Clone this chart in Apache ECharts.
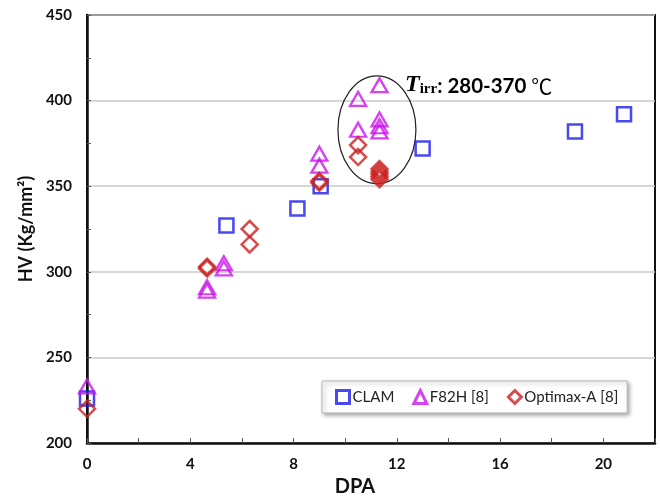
<!DOCTYPE html>
<html>
<head>
<meta charset="utf-8">
<script src="https://cdn.jsdelivr.net/npm/echarts@6/dist/echarts.min.js"></script>
<style>html,body{margin:0;padding:0;background:#fff}#c{width:660px;height:498px}</style>
</head>
<body>
<div id="c"></div>
<script>
// ---- data ----
const clamDpa = [0, 5.4, 8.15, 9.05, 13.0, 18.9, 20.8];
const clamHv  = [226, 327, 337, 350, 372, 382, 392];

const f82hDpa = [0, 4.65, 4.65, 5.3, 5.3, 9.0, 9.0, 10.5, 10.5, 11.33, 11.33, 11.33, 11.33];
const f82hHv  = [233, 289, 291, 302, 305, 362, 369, 401, 383, 409, 389, 385, 382];

const optDpa = [0, 4.65, 4.65, 6.3, 6.3, 9.0, 9.0, 10.5, 10.5, 11.33, 11.33, 11.33, 11.33, 11.33];
const optHv  = [220, 302, 303, 325, 316, 352, 353, 374, 367, 354, 355.5, 357, 358.5, 360];

const seriesNames = ['CLAM', 'F82H [8]', 'Optimax-A [8]'];
const xTicks = [0, 4, 8, 12, 16, 20];
const yTicks = [200, 250, 300, 350, 400, 450];

// ellipse annotation (center and radii in data units)
const ellipseCenter = [11.23, 383];
const ellipseRadius = [1.51, 31.5];

const zip = (a, b) => a.map((v, i) => [v, b[i]]);

const chart = echarts.init(document.getElementById('c'));
const labelFont = { fontFamily: 'Lato', fontWeight: 'bold', fontSize: 15, color: '#111' };

chart.setOption({
  animation: false,
  grid: { left: 87, right: 5, top: 15, bottom: 55, containLabel: false, outerBoundsMode: 'none',
          show: true, borderColor: '#111', borderWidth: 2, backgroundColor: 'transparent' },
  xAxis: {
    type: 'value', min: 0, max: 22, interval: 4,
    name: 'DPA', nameLocation: 'middle', nameGap: 34,
    nameTextStyle: { fontFamily: 'Lato', fontWeight: 'bold', fontSize: 20, color: '#111', padding: [0, 32, 0, 0] },
    axisLine: { show: true, lineStyle: { color: '#111', width: 2.5 } },
    axisTick: { show: true, inside: true, length: 5, lineStyle: { color: '#555', width: 1 } },
    minorTick: { show: true, splitNumber: 2, length: 5, lineStyle: { color: '#555', width: 1 } },
    axisLabel: Object.assign({ margin: 14, formatter: v => xTicks.includes(v) ? String(v) : '' }, labelFont),
    splitLine: { show: false }
  },
  yAxis: {
    type: 'value', min: 200, max: 450, interval: 50,
    name: 'HV (Kg/mm²)', nameLocation: 'middle', nameGap: 50,
    nameTextStyle: { fontFamily: 'Lato', fontWeight: 'bold', fontSize: 18, color: '#111' },
    axisLine: { show: true, lineStyle: { color: '#111', width: 2.5 } },
    axisTick: { show: true, inside: true, length: 4, lineStyle: { color: '#555', width: 1 } },
    minorTick: { show: true, splitNumber: 2, length: 4, lineStyle: { color: '#555', width: 1 } },
    axisLabel: Object.assign({ margin: 15, formatter: v => yTicks.includes(v) ? String(v) : '' }, labelFont),
    splitLine: { show: true, lineStyle: { color: '#c8c8c8', width: 1.5 } }
  },
  legend: {
    data: seriesNames,
    left: 322, top: 381, orient: 'horizontal',
    backgroundColor: '#fff', borderColor: '#b5b5b5', borderWidth: 1,
    shadowColor: 'rgba(0,0,0,0.35)', shadowBlur: 4, shadowOffsetX: 2, shadowOffsetY: 2,
    padding: [8, 9, 8, 13], itemGap: 18, itemWidth: 13, itemHeight: 13,
    itemStyle: { borderWidth: 3 },
    textStyle: { fontFamily: 'Lato', fontSize: 15, color: '#222', padding: [0, 0, 0, -2] }
  },
  graphic: [{
    type: 'text', left: 405, top: 73, z: 10,
    style: {
      text: '{t|T}{s|irr}{m|: 280-370 }{d|℃}',
      rich: {
        t: { fontFamily: 'Liberation Serif', fontStyle: 'italic', fontWeight: 'bold', fontSize: 24, color: '#111', verticalAlign: 'bottom', lineHeight: 24 },
        s: { fontFamily: 'Liberation Serif', fontWeight: 'bold', fontSize: 15, color: '#111', verticalAlign: 'bottom', lineHeight: 18, padding: [8, 0, 0, 0] },
        m: { fontFamily: 'Lato', fontWeight: 'bold', fontSize: 20.5, color: '#111', verticalAlign: 'bottom', lineHeight: 24 },
        d: { fontFamily: 'Noto Sans CJK SC', fontSize: 21, color: '#222', verticalAlign: 'bottom', lineHeight: 24 }
      }
    }
  }],
  series: [
    {
      type: 'custom', name: 'ellipse', silent: true, z: 1,
      data: [ellipseCenter],
      renderItem: function (params, api) {
        const c = api.coord([api.value(0), api.value(1)]);
        const rx = api.size([ellipseRadius[0], 0])[0];
        const ry = api.size([0, ellipseRadius[1]])[1];
        return { type: 'ellipse', shape: { cx: c[0], cy: c[1], rx: rx, ry: ry },
                 style: { fill: 'none', stroke: '#222', lineWidth: 1.2 } };
      }
    },
    {
      name: seriesNames[0], type: 'scatter', symbol: 'rect', symbolSize: 14, z: 3,
      itemStyle: { color: 'rgba(255,255,255,0)', borderColor: '#1c1ce8', borderWidth: 2.5 },
      data: zip(clamDpa, clamHv)
    },
    {
      name: seriesNames[1], type: 'scatter', symbol: 'triangle', symbolSize: [16, 14], z: 3,
      itemStyle: { color: 'rgba(255,255,255,0)', borderColor: '#cc11ee', borderWidth: 2.3 },
      data: zip(f82hDpa, f82hHv)
    },
    {
      name: seriesNames[2], type: 'scatter', symbol: 'diamond', symbolSize: 16, z: 4,
      itemStyle: { color: 'rgba(255,255,255,0)', borderColor: '#cc1f1f', borderWidth: 2.5 },
      data: zip(optDpa, optHv)
    }
  ]
});
</script>
</body>
</html>
